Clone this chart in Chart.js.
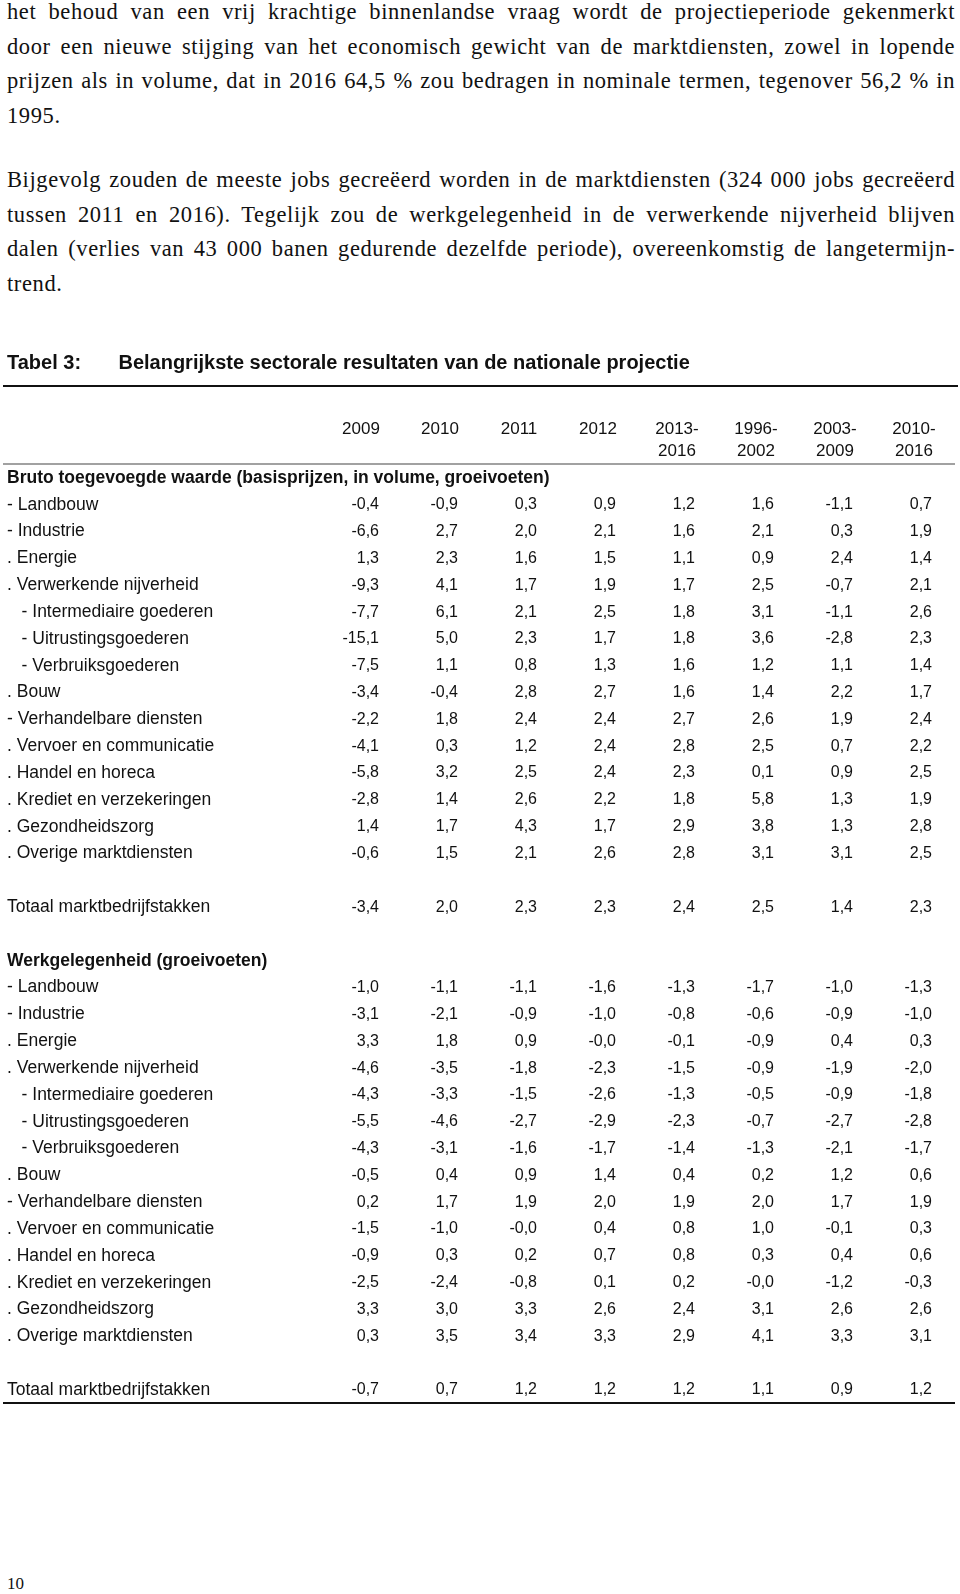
<!DOCTYPE html>
<html>
<head>
<meta charset="utf-8">
<script src="https://cdn.jsdelivr.net/npm/chart.js@4.4.1/dist/chart.umd.min.js"></script>
<style>
  body { margin: 0; background: #fff; }
  .page { position: relative; width: 960px; height: 1594px; overflow: hidden; color: #111; }
  .para { position: absolute; left: 7px; width: 948px; font-family: "Liberation Serif", serif; font-size: 22.5px; letter-spacing: 0.6px; line-height: 34.5px; }
  .para div { text-align: justify; text-align-last: justify; }
  .para div.last { text-align-last: left; }
  .chart-box { position: absolute; left: 0; top: 340px; width: 960px; height: 1080px; }
  .pagenum { position: absolute; left: 7px; top: 1574px; font-family: "Liberation Serif", serif; font-size: 17px; }
</style>
</head>
<body>
<div class="page">
  <div class="para" style="top:-4.75px">
    <div>het behoud van een vrij krachtige binnenlandse vraag wordt de projectieperiode gekenmerkt</div>
    <div>door een nieuwe stijging van het economisch gewicht van de marktdiensten, zowel in lopende</div>
    <div>prijzen als in volume, dat in 2016 64,5 % zou bedragen in nominale termen, tegenover 56,2 % in</div>
    <div class="last">1995.</div>
  </div>
  <div class="para" style="top:163.25px">
    <div>Bijgevolg zouden de meeste jobs gecreëerd worden in de marktdiensten (324 000 jobs gecreëerd</div>
    <div>tussen 2011 en 2016). Tegelijk zou de werkgelegenheid in de verwerkende nijverheid blijven</div>
    <div>dalen (verlies van 43 000 banen gedurende dezelfde periode), overeenkomstig de langetermijn-</div>
    <div class="last">trend.</div>
  </div>
  <div class="chart-box"><canvas id="table3"></canvas></div>
  <div class="pagenum">10</div>
</div>
<script>
const columnLabels = [["2009"], ["2010"], ["2011"], ["2012"], ["2013-", "2016"], ["1996-", "2002"], ["2003-", "2009"], ["2010-", "2016"]];

const sectors = [
  "- Landbouw",
  "- Industrie",
  ". Energie",
  ". Verwerkende nijverheid",
  "- Intermediaire goederen",
  "- Uitrustingsgoederen",
  "- Verbruiksgoederen",
  ". Bouw",
  "- Verhandelbare diensten",
  ". Vervoer en communicatie",
  ". Handel en horeca",
  ". Krediet en verzekeringen",
  ". Gezondheidszorg",
  ". Overige marktdiensten",
];
const subSectors = ["- Intermediaire goederen", "- Uitrustingsgoederen", "- Verbruiksgoederen"];

const headingValueAdded = "Bruto toegevoegde waarde (basisprijzen, in volume, groeivoeten)";
const headingEmployment = "Werkgelegenheid (groeivoeten)";
const totalLabel = "Totaal marktbedrijfstakken";

// bruto toegevoegde waarde
const valueAdded = [
  [-0.4, -0.9, 0.3, 0.9, 1.2, 1.6, -1.1, 0.7],
  [-6.6, 2.7, 2.0, 2.1, 1.6, 2.1, 0.3, 1.9],
  [1.3, 2.3, 1.6, 1.5, 1.1, 0.9, 2.4, 1.4],
  [-9.3, 4.1, 1.7, 1.9, 1.7, 2.5, -0.7, 2.1],
  [-7.7, 6.1, 2.1, 2.5, 1.8, 3.1, -1.1, 2.6],
  [-15.1, 5.0, 2.3, 1.7, 1.8, 3.6, -2.8, 2.3],
  [-7.5, 1.1, 0.8, 1.3, 1.6, 1.2, 1.1, 1.4],
  [-3.4, -0.4, 2.8, 2.7, 1.6, 1.4, 2.2, 1.7],
  [-2.2, 1.8, 2.4, 2.4, 2.7, 2.6, 1.9, 2.4],
  [-4.1, 0.3, 1.2, 2.4, 2.8, 2.5, 0.7, 2.2],
  [-5.8, 3.2, 2.5, 2.4, 2.3, 0.1, 0.9, 2.5],
  [-2.8, 1.4, 2.6, 2.2, 1.8, 5.8, 1.3, 1.9],
  [1.4, 1.7, 4.3, 1.7, 2.9, 3.8, 1.3, 2.8],
  [-0.6, 1.5, 2.1, 2.6, 2.8, 3.1, 3.1, 2.5],
];
const valueAddedTotal = [-3.4, 2.0, 2.3, 2.3, 2.4, 2.5, 1.4, 2.3];

// werkgelegenheid
const employment = [
  [-1.0, -1.1, -1.1, -1.6, -1.3, -1.7, -1.0, -1.3],
  [-3.1, -2.1, -0.9, -1.0, -0.8, -0.6, -0.9, -1.0],
  [3.3, 1.8, 0.9, -0.0, -0.1, -0.9, 0.4, 0.3],
  [-4.6, -3.5, -1.8, -2.3, -1.5, -0.9, -1.9, -2.0],
  [-4.3, -3.3, -1.5, -2.6, -1.3, -0.5, -0.9, -1.8],
  [-5.5, -4.6, -2.7, -2.9, -2.3, -0.7, -2.7, -2.8],
  [-4.3, -3.1, -1.6, -1.7, -1.4, -1.3, -2.1, -1.7],
  [-0.5, 0.4, 0.9, 1.4, 0.4, 0.2, 1.2, 0.6],
  [0.2, 1.7, 1.9, 2.0, 1.9, 2.0, 1.7, 1.9],
  [-1.5, -1.0, -0.0, 0.4, 0.8, 1.0, -0.1, 0.3],
  [-0.9, 0.3, 0.2, 0.7, 0.8, 0.3, 0.4, 0.6],
  [-2.5, -2.4, -0.8, 0.1, 0.2, -0.0, -1.2, -0.3],
  [3.3, 3.0, 3.3, 2.6, 2.4, 3.1, 2.6, 2.6],
  [0.3, 3.5, 3.4, 3.3, 2.9, 4.1, 3.3, 3.1],
];
const employmentTotal = [-0.7, 0.7, 1.2, 1.2, 1.2, 1.1, 0.9, 1.2];

const rowLabels = [headingValueAdded, ...sectors, "", totalLabel, "", headingEmployment, ...sectors, "", totalLabel];
const rowValues = [null, ...valueAdded, null, valueAddedTotal, null, null, ...employment, null, employmentTotal];
const headings = [headingValueAdded, headingEmployment];

const FONT = "'Liberation Sans', Arial, Helvetica, sans-serif";
const INK = "#111";
Chart.defaults.font.family = FONT;
Chart.defaults.color = INK;

function formatValue(v) {
  const sign = v < 0 || Object.is(v, -0) ? "-" : "";
  return sign + Math.abs(v).toFixed(1).replace(".", ",");
}

const tableCells = {
  id: "tableCells",
  afterDraw(chart) {
    const { ctx } = chart;
    const x = chart.scales.x;
    const y = chart.scales.y;
    ctx.save();
    ctx.fillStyle = INK;
    ctx.textBaseline = "middle";

    // section headings run across the columns, so they are not axis ticks
    ctx.font = "bold 17.5px " + FONT;
    ctx.textAlign = "left";
    rowLabels.forEach((label, r) => {
      if (headings.includes(label)) ctx.fillText(label, y.left, y.getPixelForValue(r));
    });

    ctx.font = "16px " + FONT;
    ctx.textAlign = "right";
    rowValues.forEach((vals, r) => {
      if (!vals) return;
      const py = y.getPixelForValue(r);
      vals.forEach((v, c) => {
        ctx.fillText(formatValue(v), x.getPixelForValue(c) + 18, py);
      });
    });

    // rules of the table
    const first = y.getPixelForValue(0);
    const last = y.getPixelForValue(rowLabels.length - 1);
    ctx.strokeStyle = INK;
    ctx.lineWidth = 2;
    ctx.beginPath();
    ctx.moveTo(3, first - 92);
    ctx.lineTo(958, first - 92);
    ctx.stroke();
    ctx.strokeStyle = "#444";
    ctx.lineWidth = 1.2;
    ctx.beginPath();
    ctx.moveTo(3, first - 14);
    ctx.lineTo(955, first - 14);
    ctx.stroke();
    ctx.strokeStyle = INK;
    ctx.lineWidth = 2;
    ctx.beginPath();
    ctx.moveTo(3, last + 13);
    ctx.lineTo(955, last + 13);
    ctx.stroke();
    ctx.restore();
  },
};

new Chart(document.getElementById("table3"), {
  type: "line",
  data: { datasets: [] },
  options: {
    responsive: true,
    maintainAspectRatio: false,
    animation: false,
    layout: { padding: { left: 7, right: 6.5, top: 0, bottom: 30 } },
    plugins: {
      legend: { display: false },
      tooltip: { enabled: false },
      title: {
        display: true,
        text: "Tabel 3:      \u2009Belangrijkste sectorale resultaten van de nationale projectie",
        align: "start",
        color: INK,
        font: { size: 20, weight: "bold", lineHeight: 1.2 },
        padding: { top: 11, bottom: 42 },
      },
    },
    scales: {
      x: {
        type: "category",
        labels: columnLabels,
        position: "top",
        offset: true,
        grid: { display: false, drawTicks: false },
        border: { display: false },
        ticks: {
          color: INK,
          font: { size: 17, lineHeight: 1.32 },
          padding: 15,
          crossAlign: "far",
          maxRotation: 0,
          autoSkip: false,
        },
        afterFit: (scale) => {
          scale.height = 61;
        },
      },
      y: {
        type: "category",
        labels: rowLabels,
        offset: false,
        grid: { display: false, drawTicks: false },
        border: { display: false },
        ticks: {
          color: INK,
          crossAlign: "far",
          autoSkip: false,
          padding: 0,
          font: { size: 17.5 },
          callback: (value, index) => {
            const label = rowLabels[index];
            if (headings.includes(label)) return "";
            return (subSectors.includes(label) ? "   " : "") + label;
          },
        },
        afterFit: (scale) => {
          scale.width = 314.5;
        },
      },
    },
  },
  plugins: [tableCells],
});
</script>
</body>
</html>
